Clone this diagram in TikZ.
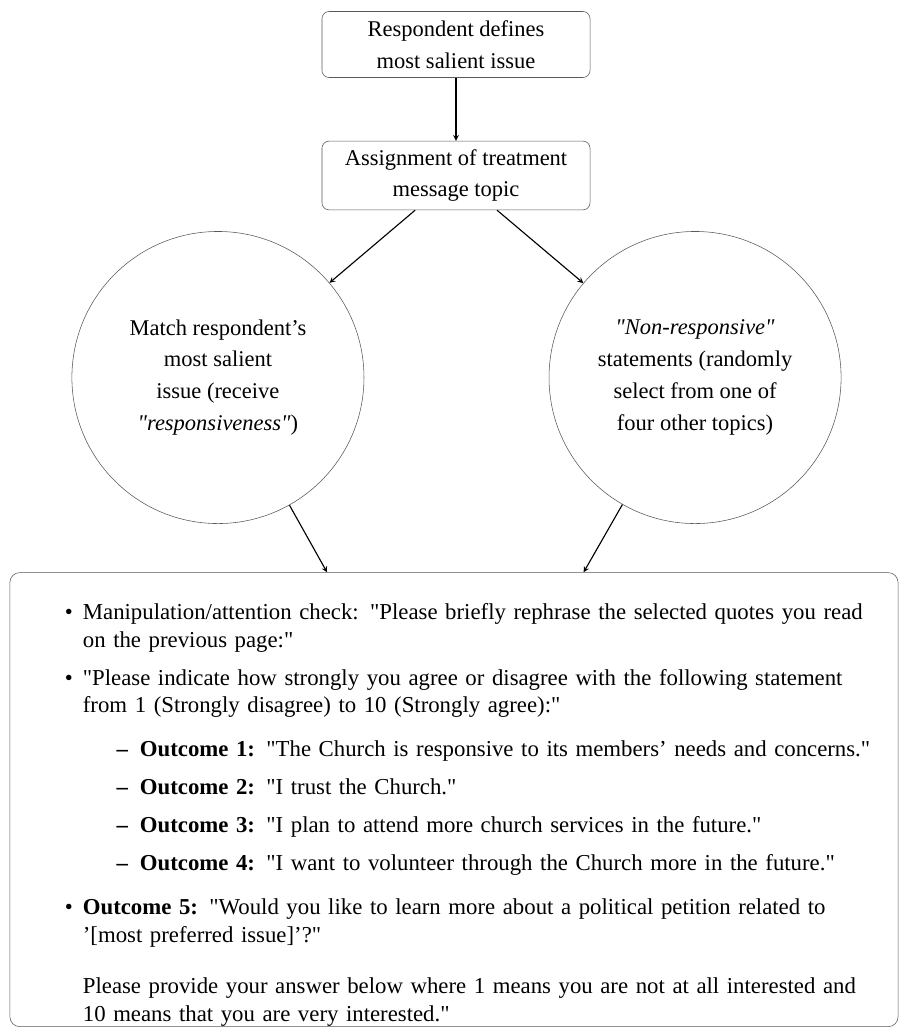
\documentclass[tikz,border=0pt]{standalone}
\usepackage{fontspec}
\setmainfont{Liberation Serif}
\newfontfamily\quotefont{Liberation Serif}
\newcommand{\dq}{{\quotefont"}}
\usepackage{enumitem}
\usetikzlibrary{positioning}
\tikzstyle{stage} = [rectangle, rounded corners=0.18cm,
minimum width=6.7cm,
minimum height=1.65cm,
inner sep=0.1cm,
align=center,
draw=black!65,
font=\fontsize{16}{22.7}\selectfont]
\tikzstyle{branch} = [circle, minimum size=7.3cm, inner sep=0pt, align=center, draw=black!65, font=\fontsize{16}{22.7}\selectfont]
\tikzstyle{panel} = [rectangle, rounded corners=0.25cm, minimum width=22.2cm, minimum height=11.35cm, draw=black!65]
\tikzstyle{panel_text} = [inner sep=0pt, text width=22cm, font=\fontsize{16.2}{19.8}\selectfont]
\tikzstyle{arrow} = [thick,->,>=stealth]
\setlist[itemize,1]{leftmargin=1.825cm, labelsep=0.25cm, topsep=0pt, partopsep=0pt, itemsep=0.25cm, parsep=0pt}
\setlist[itemize,2]{leftmargin=1.425cm, labelsep=0.3cm, topsep=0.4cm, partopsep=0pt, itemsep=0.25cm, parsep=0pt}

\begin{document}
\begin{tikzpicture}[x=0.025cm, y=-0.025cm]
\useasboundingbox (0,0) rectangle (899,1027);

% Steps at the top
\node (Respondent) [stage] at (456,44.5) {Respondent defines\\most salient issue};
\node (Assignment) [stage, below=1.575cm of Respondent, minimum height=1.72cm] {Assignment of treatment\\message topic};

% Two treatment arms
\node (Match) [branch, below=0.525cm of Assignment.south, xshift=-5.95cm] {Match respondent's\\most salient\\issue (receive\\\textit{\dq responsiveness\dq})};
\node (Non_Responsive) [branch, below=0.525cm of Assignment.south, xshift=5.975cm] {\textit{\dq Non-responsive\dq}\\statements (randomly\\select from one of\\four other topics)};

% Outcome questions
\node (Outcomes) [panel, below=9.05cm of Assignment.south, xshift=-0.05cm] {};
\node (Outcome_List) [panel_text, below right=0.475cm and 0cm of Outcomes.north west] {\raggedright
\begin{itemize}
\item Manipulation/attention check: \dq Please briefly rephrase the selected quotes you read\newline on the previous page:\dq
\item \dq Please indicate how strongly you agree or disagree with the following statement\newline from 1 (Strongly disagree) to 10 (Strongly agree):\dq
  \begin{itemize}
  \item \textbf{Outcome 1:} \dq The Church is responsive to its members' needs and concerns.\dq
  \item \textbf{Outcome 2:} \dq I trust the Church.\dq
  \item \textbf{Outcome 3:} \dq I plan to attend more church services in the future.\dq
  \item \textbf{Outcome 4:} \dq I want to volunteer through the Church more in the future.\dq
  \end{itemize}
\item \textbf{Outcome 5:} \dq Would you like to learn more about a political petition related to\newline '[most preferred issue]'?\dq\par
\vspace{0.6cm}Please provide your answer below where 1 means you are not at all interested and\newline 10 means that you are very interested.\dq
\end{itemize}};

% Connections
\draw [arrow] (Respondent) -- (Assignment);
\draw [arrow] (Assignment) -- (Match);
\draw [arrow] (Assignment) -- (Non_Responsive);
\draw [arrow] (Match) -- (Outcomes);
\draw [arrow] (Non_Responsive) -- (Outcomes);

\end{tikzpicture}
\end{document}
